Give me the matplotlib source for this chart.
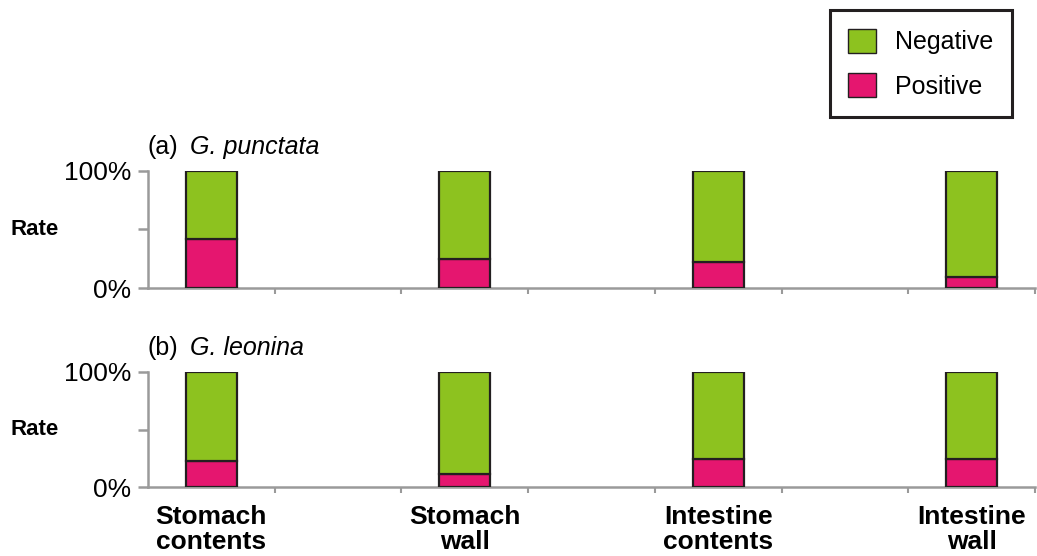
import matplotlib.pyplot as plt
import numpy as np
from matplotlib.patches import Patch

plt.rcParams['font.family'] = ['Liberation Sans', 'DejaVu Sans']

sites = ['Stomach\ncontents', 'Stomach\nwall', 'Intestine\ncontents', 'Intestine\nwall']
species = ['G. punctata', 'G. leonina']
panel_tags = ['(a)', '(b)']

# share of positive samples per site (rest is negative)
positive_punctata = [0.42, 0.245, 0.22, 0.09]
positive_leonina = [0.23, 0.115, 0.245, 0.245]

green = '#8dc21f'
pink = '#e5166f'
edge = '#231f20'
grey = '#9a9a9a'

fig = plt.figure(figsize=(10.37, 5.56), dpi=100)
ax_a = fig.add_axes([0.1427, 0.482, 0.8553, 0.2106])
ax_b = fig.add_axes([0.1427, 0.124, 0.8553, 0.207])

x = np.arange(len(sites))
for ax, pos, tag, name in zip([ax_a, ax_b], [positive_punctata, positive_leonina],
                              panel_tags, species):
    pos = np.array(pos)
    neg = 1 - pos
    ax.bar(x, pos, width=0.2, color=pink, edgecolor=edge, linewidth=1.6, zorder=3)
    ax.bar(x, neg, bottom=pos, width=0.2, color=green, edgecolor=edge, linewidth=1.6, zorder=3)

    ax.set_xlim(-0.25, 3.25)
    ax.set_ylim(0, 1)
    for s in ['top', 'right']:
        ax.spines[s].set_visible(False)
    for s in ['left', 'bottom']:
        ax.spines[s].set_color(grey)
        ax.spines[s].set_linewidth(1.8)

    ax.set_yticks([0, 0.5, 1])
    ax.set_yticklabels(['0%', '', '100%'], fontsize=19)
    ax.tick_params(axis='y', length=7, width=1.8, color=grey, pad=5)

    ax.set_xticks(x)
    ax.set_xticks(np.arange(0.25, 3.3, 0.5), minor=True)
    ax.tick_params(axis='x', which='minor', length=4, width=1.5, color=grey)
    ax.tick_params(axis='x', which='major', length=0, pad=13)
    if ax is ax_b:
        ax.set_xticklabels(sites, fontsize=19, fontweight='bold', linespacing=1.05)
    else:
        ax.set_xticklabels([])

    ax.text(-0.155, 0.5, 'Rate', transform=ax.transAxes, fontsize=16,
            fontweight='bold', ha='left', va='center')
    ax.text(0.0, 1.1, tag, transform=ax.transAxes, fontsize=18,
            ha='left', va='bottom')
    ax.text(0.047, 1.1, name, transform=ax.transAxes, fontsize=18,
            style='italic', ha='left', va='bottom')

handles = [Patch(facecolor=green, edgecolor=edge, label='Negative'),
           Patch(facecolor=pink, edgecolor=edge, label='Positive')]
leg = fig.legend(handles=handles, loc='upper left', bbox_to_anchor=(0.8, 0.982),
                 borderaxespad=0, fontsize=18, frameon=True, fancybox=False,
                 framealpha=1, handlelength=1.1, handleheight=1.1,
                 handletextpad=0.75, borderpad=0.75, labelspacing=0.75)
leg.get_frame().set_edgecolor(edge)
leg.get_frame().set_linewidth(2.2)

fig.savefig('out.png', dpi=100)
